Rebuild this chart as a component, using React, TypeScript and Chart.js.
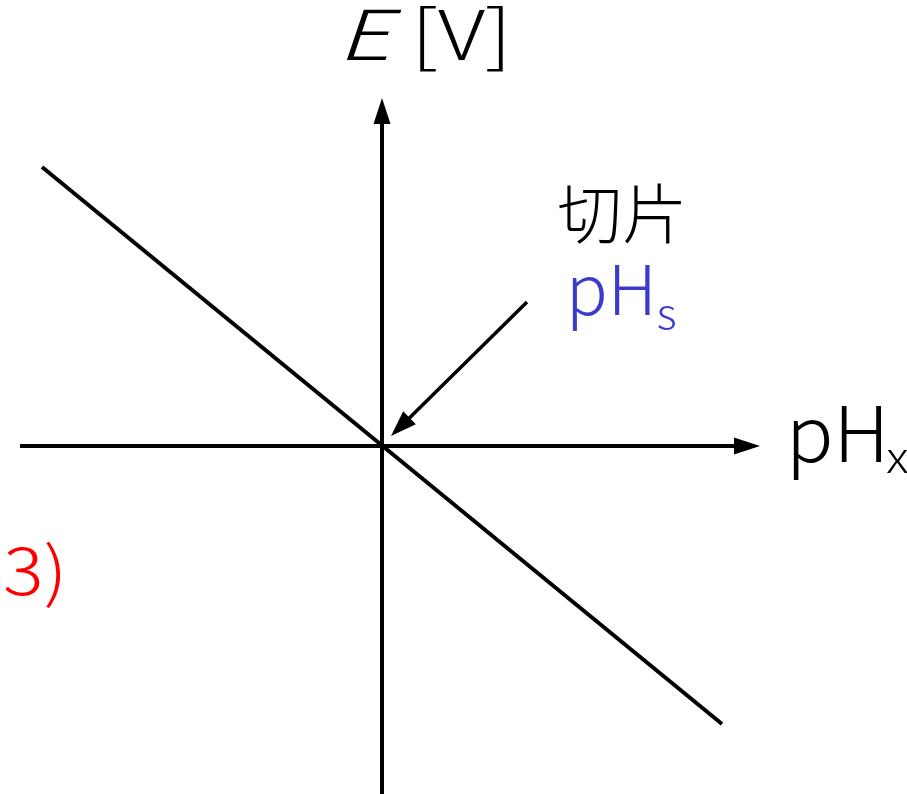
import { useEffect, useRef } from "react";
import { Chart, registerables } from "chart.js";

Chart.register(...registerables);

// Straight response line E vs pHx (units: 1 unit = 10 px on both axes)
const lineX = [-34.0, 34.0];
const lineE = [27.9, -27.8];

// Horizontal (pHx) axis: start and arrow tip
const xAxisX = [-36.2, 37.8];
// Vertical (E) axis: bottom and arrow tip
const yAxisE = [-34.8, 34.8];

// Pointer arrow to the intercept: tail then tip
const pointerX = [14.5, 0.9];
const pointerE = [14.4, 1.0];

const X_MIN = -38.2;
const X_MAX = 52.5;
const E_MIN = -34.8;
const E_MAX = 44.6;

const FONT = "'Noto Sans CJK JP', 'Noto Sans', sans-serif";
const BLUE = "#3b3bcc";

function arrow(
  ctx: CanvasRenderingContext2D,
  x0: number,
  y0: number,
  x1: number,
  y1: number,
  width: number,
  headLen: number,
  headHalf: number
) {
  const dx = x1 - x0;
  const dy = y1 - y0;
  const len = Math.hypot(dx, dy);
  const ux = dx / len;
  const uy = dy / len;
  const bx = x1 - ux * headLen;
  const by = y1 - uy * headLen;
  ctx.save();
  ctx.strokeStyle = "#000";
  ctx.fillStyle = "#000";
  ctx.lineWidth = width;
  ctx.lineCap = "butt";
  ctx.beginPath();
  ctx.moveTo(x0, y0);
  ctx.lineTo(bx + ux * 2, by + uy * 2);
  ctx.stroke();
  ctx.beginPath();
  ctx.moveTo(x1, y1);
  ctx.lineTo(bx - uy * headHalf, by + ux * headHalf);
  ctx.lineTo(bx + uy * headHalf, by - ux * headHalf);
  ctx.closePath();
  ctx.fill();
  ctx.restore();
}

// Text drawn with a horizontal stretch; returns the advance in pixels
function text(
  ctx: CanvasRenderingContext2D,
  s: string,
  x: number,
  y: number,
  font: string,
  color: string,
  sx = 1
): number {
  ctx.save();
  ctx.font = font;
  ctx.fillStyle = color;
  ctx.translate(x, y);
  ctx.scale(sx, 1);
  ctx.fillText(s, 0, 0);
  const w = ctx.measureText(s).width * sx;
  ctx.restore();
  return w;
}

const diagramPlugin = {
  id: "diagram",
  beforeDatasetsDraw(chart: any) {
    const { ctx } = chart;
    const xs = chart.scales.x;
    const ys = chart.scales.y;
    const px = (v: number) => xs.getPixelForValue(v);
    const py = (v: number) => ys.getPixelForValue(v);
    // axes with arrow heads
    arrow(ctx, px(xAxisX[0]), py(0), px(xAxisX[1]), py(0), 4, 26, 8.5);
    arrow(ctx, px(0), py(yAxisE[0]), px(0), py(yAxisE[1]), 4, 26, 8.5);
  },
  afterDatasetsDraw(chart: any) {
    const { ctx } = chart;
    const xs = chart.scales.x;
    const ys = chart.scales.y;
    const px = (v: number) => xs.getPixelForValue(v);
    const py = (v: number) => ys.getPixelForValue(v);

    arrow(ctx, px(pointerX[0]), py(pointerE[0]), px(pointerX[1]), py(pointerE[1]), 3.5, 26, 9);

    ctx.save();
    ctx.textBaseline = "alphabetic";
    ctx.textAlign = "left";

    // E [V]
    const yE = py(38.6);
    text(ctx, "E", px(-4.5), yE, `italic 300 69px ${FONT}`, "#000", 1.35);
    text(ctx, "[V]", px(2.9), yE, `300 69px ${FONT}`, "#000", 1.24);

    // 切片
    ctx.textBaseline = "middle";
    text(ctx, "切片", px(17.5), py(23.3), `300 65px ${FONT}`, "#000", 1.0);
    ctx.textBaseline = "alphabetic";

    // pH_s
    let x = px(18.4);
    x += text(ctx, "pH", x, py(13.1), `300 69px ${FONT}`, BLUE, 1.0);
    text(ctx, "s", x, py(11.7), `300 42px ${FONT}`, BLUE, 1.05);

    // pH_x
    x = px(40.4);
    x += text(ctx, "pH", x, py(-1.6), `300 77px ${FONT}`, "#000", 1.02) - 3;
    text(ctx, "x", x, py(-2.7), `300 44px ${FONT}`, "#000", 1.1);

    // 3)
    text(ctx, "3)", px(-37.9), py(-14.9), `300 66px ${FONT}`, "#ff0000", 1.15);

    ctx.restore();
  },
};

export default function App() {
  const canvasRef = useRef<HTMLCanvasElement | null>(null);

  useEffect(() => {
    document.body.style.margin = "0";
    const canvas = canvasRef.current;
    if (!canvas) return;
    const chart = new Chart(canvas, {
      type: "scatter",
      data: {
        datasets: [
          {
            data: lineX.map((v, i) => ({ x: v, y: lineE[i] })),
            showLine: true,
            borderColor: "#000",
            borderWidth: 4,
            pointRadius: 0,
            borderCapStyle: "butt",
          },
        ],
      },
      options: {
        responsive: false,
        animation: false,
        layout: { padding: 0 },
        plugins: {
          legend: { display: false },
          tooltip: { enabled: false },
        },
        scales: {
          x: { type: "linear", min: X_MIN, max: X_MAX, display: false },
          y: { type: "linear", min: E_MIN, max: E_MAX, display: false },
        },
      },
      plugins: [diagramPlugin],
    });
    return () => chart.destroy();
  }, []);

  return (
    <div style={{ width: 907, height: 794, background: "#fff" }}>
      <canvas ref={canvasRef} width={907} height={794} />
    </div>
  );
}
